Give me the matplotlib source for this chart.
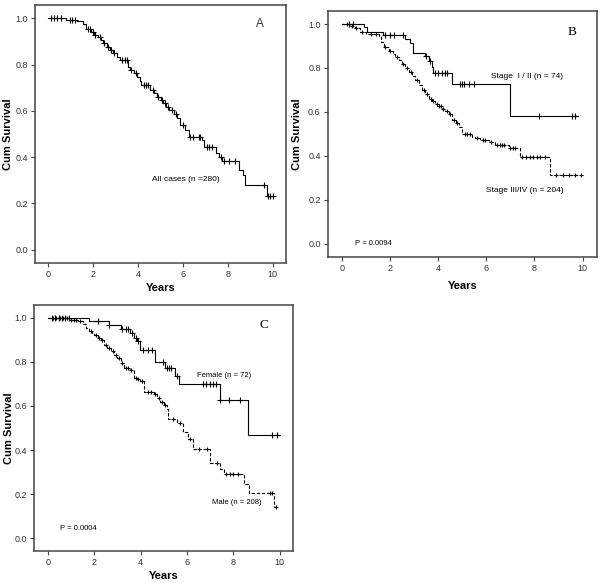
import numpy as np
import matplotlib
matplotlib.use('Agg')
import matplotlib.pyplot as plt

plt.rcParams['font.family'] = ['Liberation Sans', 'DejaVu Sans']

# --- Panel A: all cases ---
a_times = [0, 0.8, 1.3, 1.55, 1.7, 1.9, 2.05, 2.2, 2.35, 2.45, 2.6, 2.75, 2.9, 3.05, 3.2,
           3.55, 3.65, 3.8, 3.95, 4.07, 4.14, 4.55, 4.7, 4.85, 5.0, 5.1, 5.25, 5.4, 5.6,
           5.75, 5.85, 6.07, 6.26, 6.86, 6.96, 7.48, 7.6, 7.75, 8.49, 8.67, 8.78, 9.73]
a_surv = [1.0, 0.994, 0.987, 0.977, 0.955, 0.94, 0.93, 0.92, 0.905, 0.892, 0.878, 0.864,
          0.85, 0.835, 0.82, 0.79, 0.778, 0.765, 0.748, 0.727, 0.71, 0.69, 0.675, 0.66,
          0.645, 0.632, 0.618, 0.604, 0.585, 0.568, 0.54, 0.517, 0.488, 0.474, 0.445,
          0.416, 0.402, 0.384, 0.344, 0.322, 0.279, 0.231]
a_end = 10.05
a_cens = [0.1, 0.25, 0.4, 0.55, 0.95, 1.05, 1.2, 1.75, 1.85, 2.0, 2.1, 2.3, 2.5, 2.65, 2.8,
          2.95, 3.3, 3.4, 3.5, 3.7, 3.9, 4.25, 4.35, 4.45, 4.65, 4.9, 5.05, 5.2, 5.35, 5.5,
          5.7, 6.0, 6.3, 6.45, 6.7, 6.78, 7.05, 7.15, 7.3, 7.7, 7.85, 8.05, 8.3, 9.59,
          9.78, 9.9, 10.0]

# --- Panel B: stage ---
b1_times = [0, 0.9, 1.04, 1.69, 2.63, 2.84, 2.94, 3.46, 3.6, 3.74, 3.8, 4.57, 7.0]
b1_surv = [1.0, 0.985, 0.962, 0.95, 0.932, 0.915, 0.869, 0.855, 0.834, 0.804, 0.775, 0.725, 0.58]
b1_end = 9.83
b1_cens = [0.3, 0.45, 1.8, 2.0, 2.14, 2.55, 3.5, 3.65, 3.85, 4.0, 4.15, 4.29, 4.38, 4.92,
           4.99, 5.08, 5.26, 5.47, 8.17, 9.56, 9.7]

b2_times = [0, 0.3, 0.55, 0.75, 1.0, 1.52, 1.62, 1.73, 1.94, 2.1, 2.22, 2.35, 2.49, 2.63,
            2.77, 2.91, 3.05, 3.2, 3.32, 3.46, 3.6, 3.75, 3.88, 4.02, 4.16, 4.3, 4.43, 4.57,
            4.72, 4.85, 4.99, 5.4, 5.54, 5.75, 6.09, 6.37, 6.93, 7.41, 8.66]
b2_surv = [1.0, 0.99, 0.98, 0.965, 0.955, 0.945, 0.92, 0.894, 0.876, 0.864, 0.852, 0.836,
           0.819, 0.80, 0.781, 0.762, 0.744, 0.722, 0.701, 0.68, 0.661, 0.65, 0.638, 0.626,
           0.615, 0.604, 0.593, 0.563, 0.548, 0.532, 0.502, 0.487, 0.48, 0.472, 0.464,
           0.449, 0.434, 0.396, 0.312]
b2_end = 10.03
b2_cens = [0.2, 0.4, 0.6, 0.85, 1.2, 1.4, 1.8, 2.0, 2.3, 2.55, 2.7, 2.85, 3.1, 3.4, 3.55,
           3.7, 3.8, 3.95, 4.05, 4.1, 4.2, 4.35, 4.5, 4.65, 4.8, 5.1, 5.2, 5.3, 5.6, 5.85,
           5.95, 6.2, 6.45, 6.55, 6.65, 6.75, 7.0, 7.1, 7.2, 7.5, 7.65, 7.8, 7.95, 8.1,
           8.25, 8.45, 8.9, 9.2, 9.45, 9.7, 9.95]

# --- Panel C: gender ---
c1_times = [0, 1.78, 2.63, 3.13, 3.56, 3.7, 3.84, 3.99, 4.63, 5.06, 5.48, 5.67, 7.41, 8.65]
c1_surv = [1.0, 0.985, 0.967, 0.951, 0.931, 0.908, 0.893, 0.855, 0.80, 0.774, 0.736,
           0.698, 0.627, 0.47]
c1_end = 10.04
c1_cens = [0.15, 0.3, 0.45, 0.6, 0.75, 0.9, 2.15, 2.65, 3.2, 3.35, 3.45, 3.62, 3.78, 3.9,
           4.1, 4.3, 4.5, 4.95, 5.12, 5.22, 5.32, 5.55, 6.69, 6.84, 6.98, 7.12, 7.26,
           7.41, 7.83, 8.29, 9.68, 9.9]

c2_times = [0, 0.9, 1.3, 1.5, 1.65, 1.78, 1.9, 1.99, 2.15, 2.28, 2.42, 2.56, 2.71, 2.85,
            2.99, 3.14, 3.28, 3.56, 3.7, 3.85, 3.99, 4.13, 4.56, 4.7, 4.85, 4.99, 5.13,
            5.2, 5.56, 5.84, 6.05, 6.27, 6.98, 7.41, 7.62, 8.47, 8.69, 9.76]
c2_surv = [1.0, 0.99, 0.985, 0.97, 0.955, 0.939, 0.93, 0.92, 0.91, 0.90, 0.878, 0.862,
           0.847, 0.832, 0.817, 0.795, 0.771, 0.763, 0.728, 0.72, 0.713, 0.664, 0.656,
           0.634, 0.618, 0.603, 0.588, 0.54, 0.522, 0.481, 0.45, 0.404, 0.343, 0.313,
           0.29, 0.244, 0.206, 0.142]
c2_end = 9.9
c2_cens = [0.2, 0.35, 0.5, 0.65, 0.8, 1.0, 1.1, 1.2, 1.4, 1.85, 2.05, 2.2, 2.35, 2.5,
           2.65, 2.8, 2.92, 3.05, 3.2, 3.35, 3.45, 3.6, 3.78, 3.9, 4.05, 4.3, 4.45, 4.62,
           4.78, 4.92, 5.05, 5.4, 5.7, 6.15, 6.5, 6.85, 7.3, 7.7, 7.85, 8.0, 8.2, 9.6,
           9.68, 9.85]

FRAME = '#444444'


def km(ax, times, surv, end, cens, dashed=False):
    t = np.append(times, end)
    s = np.append(surv, surv[-1])
    ls = (0, (3, 1.6)) if dashed else '-'
    ax.step(t, s, where='post', color='black', lw=0.8, linestyle=ls)
    c = np.array(cens)
    idx = np.searchsorted(times, c, side='right') - 1
    ax.plot(c, np.array(surv)[idx], linestyle='none', marker='+', color='black',
            markersize=3.5 if dashed else 4.2, mew=0.8)


def style(ax, lx, ly):
    ax.set_xlim(-0.6, 10.6)
    ax.set_ylim(-0.058, 1.058)
    ax.set_xticks(range(0, 11, 2))
    ax.set_yticks(np.arange(0, 1.01, 0.2))
    ax.set_yticklabels([f"{v:.1f}" for v in np.arange(0, 1.01, 0.2)])
    ax.tick_params(direction='out', length=3, width=0.8, color=FRAME,
                   labelsize=6.5, labelcolor='#333333', pad=2)
    for sp in ax.spines.values():
        sp.set_color(FRAME)
        sp.set_linewidth(1.1)
    ax.set_ylabel('Cum Survival', fontsize=8, fontweight='bold')
    ax.set_xlabel('Years', fontsize=8, fontweight='bold')
    ax.yaxis.set_label_coords(lx, 0.5)
    ax.xaxis.set_label_coords(0.5, ly)


fig = plt.figure(figsize=(6.0, 5.83), dpi=100)

axA = fig.add_axes([0.058, 0.549, 0.419, 0.4425])
km(axA, a_times, a_surv, a_end, a_cens)
style(axA, -0.088, -0.078)
axA.text(9.41, 0.977, 'A', fontsize=8.5, ha='center', va='center', color='#333333')
axA.text(4.6, 0.305, 'All cases (n =280)', fontsize=6, ha='left', va='center')

axB = fig.add_axes([0.546, 0.5597, 0.449, 0.421])
km(axB, b1_times, b1_surv, b1_end, b1_cens)
km(axB, b2_times, b2_surv, b2_end, b2_cens, dashed=True)
style(axB, -0.095, -0.099)
axB.text(9.56, 0.965, 'B', fontsize=9.5, ha='center', va='center', family='Liberation Serif')
axB.text(6.19, 0.761, 'Stage  I / II (n = 74)', fontsize=6, ha='left', va='center')
axB.text(5.98, 0.243, 'Stage III/IV (n = 204)', fontsize=6, ha='left', va='center')
axB.text(0.55, 0.0, 'P = 0.0094', fontsize=5.5, ha='left', va='center')

axC = fig.add_axes([0.057, 0.0549, 0.432, 0.422])
km(axC, c1_times, c1_surv, c1_end, c1_cens)
km(axC, c2_times, c2_surv, c2_end, c2_cens, dashed=True)
style(axC, -0.078, -0.081)
axC.text(9.33, 0.966, 'C', fontsize=9.5, ha='center', va='center', family='Liberation Serif')
axC.text(6.44, 0.737, 'Female (n = 72)', fontsize=5.5, ha='left', va='center')
axC.text(7.08, 0.16, 'Male (n = 208)', fontsize=5.5, ha='left', va='center')
axC.text(0.5, 0.044, 'P = 0.0004', fontsize=5.5, ha='left', va='center')

fig.savefig('out.png', dpi=100)
